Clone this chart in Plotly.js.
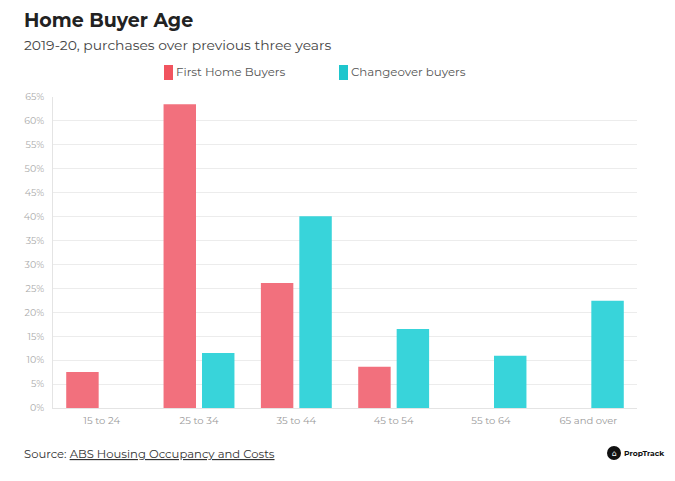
<!DOCTYPE html>
<html>
<head>
<meta charset="utf-8">
<script src="https://cdn.plot.ly/plotly-3.0.1.min.js"></script>
<style>html,body{margin:0;padding:0;background:#fff;}#chart{width:675px;height:481px;}</style>
</head>
<body>
<div id="chart"></div>
<script>
const categories = ["15 to 24", "25 to 34", "35 to 44", "45 to 54", "55 to 64", "65 and over"];
const seriesNames = ["First Home Buyers", "Changeover buyers"];
const firstHomeBuyers = [7.5, 63.5, 26.1, 8.6, null, null];
const changeoverBuyers = [null, 11.5, 40.1, 16.5, 10.9, 22.4];
const yTickVals = [0,5,10,15,20,25,30,35,40,45,50,55,60,65];
const yTickText = yTickVals.map(v => v + "%");

const FONT = "Montserrat, 'Open Sans', 'DejaVu Sans', sans-serif";
const barColors = ["#F2707D", "#38D4DA"];
const swatchColors = ["#F1545F", "#1EC6CD"];

const traces = [
  {type: "bar", name: seriesNames[0], x: categories, y: firstHomeBuyers,
   marker: {color: barColors[0]}, hoverinfo: "skip"},
  {type: "bar", name: seriesNames[1], x: categories, y: changeoverBuyers,
   marker: {color: barColors[1]}, hoverinfo: "skip"}
];

// plot area: x 53..637 (584px), y 97..408 (311px)
const px = x => (x - 53) / 584;
const py = y => (408 - y) / 311;

const layout = {
  width: 675, height: 481,
  margin: {l: 53, r: 38, t: 97, b: 73},
  paper_bgcolor: "#fff", plot_bgcolor: "#fff",
  font: {family: FONT, color: "#444"},
  barmode: "group", bargap: 0.21, bargroupgap: 0.156,
  showlegend: false,
  xaxis: {type: "category", showgrid: false, showline: true, linecolor: "#e4e4e4", linewidth: 1,
          ticks: "", ticklabelstandoff: 3, tickfont: {size: 10, color: "#9a9a9a"}, fixedrange: true},
  yaxis: {range: [0, 65], tickvals: yTickVals, ticktext: yTickText, showgrid: true,
          gridcolor: "#ececec", zeroline: false, showline: true, linecolor: "#e4e4e4",
          ticks: "", ticklabelstandoff: 6, tickfont: {size: 9.5, color: "#aaa"}, fixedrange: true},
  annotations: [
    {xref: "paper", yref: "paper", x: px(22), y: py(20), xanchor: "left", yanchor: "middle",
     text: "<b>Home Buyer Age</b>", showarrow: false, font: {size: 19, color: "#222"}},
    {xref: "paper", yref: "paper", x: px(22), y: py(45), xanchor: "left", yanchor: "middle",
     text: "2019-20, purchases over previous three years", showarrow: false, font: {size: 13.9, color: "#444"}},
    {xref: "paper", yref: "paper", x: px(174), y: py(72), xanchor: "left", yanchor: "middle",
     text: seriesNames[0], showarrow: false, font: {size: 11.8, color: "#555"}},
    {xref: "paper", yref: "paper", x: px(349), y: py(72), xanchor: "left", yanchor: "middle",
     text: seriesNames[1], showarrow: false, font: {size: 11.8, color: "#555"}},
    {xref: "paper", yref: "paper", x: px(22), y: py(454), xanchor: "left", yanchor: "middle",
     text: "Source: <span style=\"text-decoration:underline\">ABS Housing Occupancy and Costs</span>",
     showarrow: false, font: {size: 11.6, color: "#333"}},
    {xref: "paper", yref: "paper", x: px(622), y: py(453), xanchor: "left", yanchor: "middle",
     text: "<b>PropTrack</b>", showarrow: false, font: {size: 7.6, color: "#111"}},
    {xref: "paper", yref: "paper", x: px(614), y: py(453), xanchor: "center", yanchor: "middle",
     text: "⌂", showarrow: false, font: {size: 8, color: "#fff"}}
  ],
  shapes: [
    {type: "rect", xref: "paper", yref: "paper", x0: px(164), x1: px(173), y0: py(80), y1: py(65),
     fillcolor: swatchColors[0], line: {width: 0}},
    {type: "rect", xref: "paper", yref: "paper", x0: px(339), x1: px(348), y0: py(80), y1: py(65),
     fillcolor: swatchColors[1], line: {width: 0}},
    {type: "circle", xref: "paper", yref: "paper", x0: px(607), x1: px(621), y0: py(460), y1: py(446),
     fillcolor: "#111", line: {width: 0}}
  ]
};

Plotly.newPlot("chart", traces, layout, {displayModeBar: false, staticPlot: true});
</script>
</body>
</html>
